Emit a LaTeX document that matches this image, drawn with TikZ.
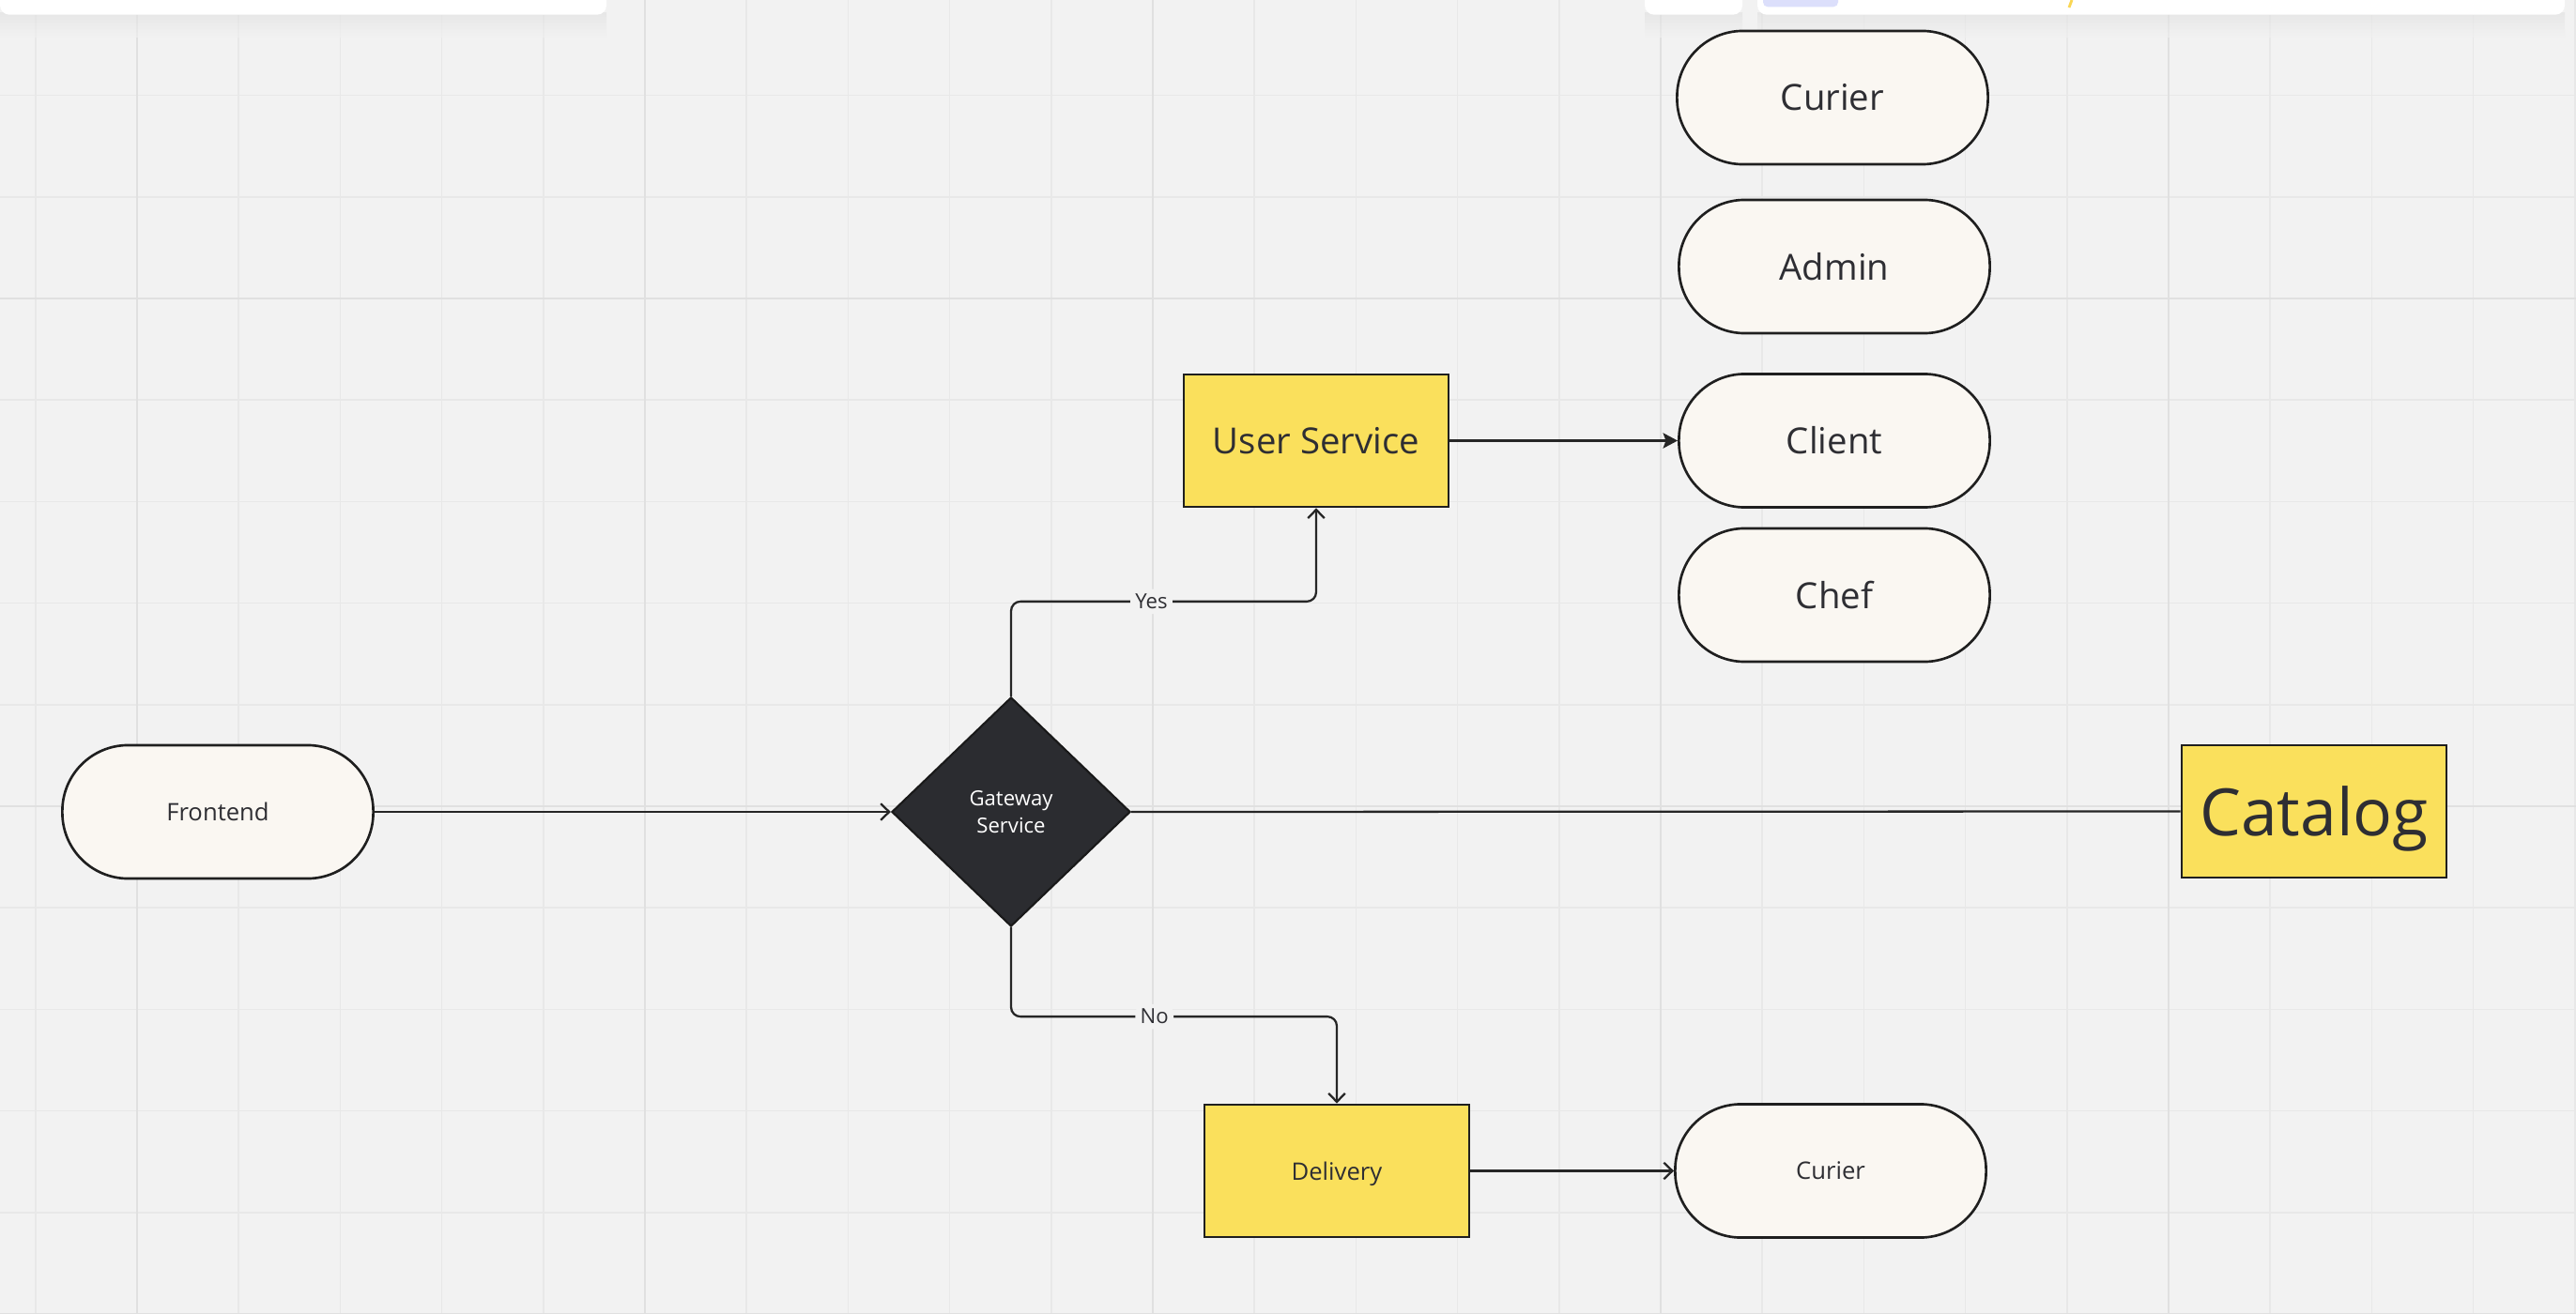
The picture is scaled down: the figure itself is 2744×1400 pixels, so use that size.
\documentclass[tikz,border=0pt]{standalone}
\usepackage{xcolor}
\usepackage{fontspec}
\setmainfont{Open Sans}
\usepackage{tikz}
\usetikzlibrary{shapes, positioning, calc, arrows.meta}

\definecolor{canvas}{HTML}{F2F2F2}
\definecolor{gridminor}{HTML}{E8E8E8}
\definecolor{gridmajor}{HTML}{E0E0E0}
\definecolor{cream}{HTML}{FAF7F2}
\definecolor{sticky}{HTML}{FAE05C}
\definecolor{slate}{HTML}{2B2C30}
\definecolor{ink}{HTML}{2E2E33}
\definecolor{lavender}{HTML}{DCDFFB}

\tikzset{
	pill/.style={draw=black!88, line width=0.75pt, fill=cream, rounded corners=0.7cm, minimum width=3.31cm, minimum height=1.42cm, inner sep=0pt, text=ink},
	service/.style={draw=black!88, line width=0.75pt, fill=sticky, minimum width=2.82cm, minimum height=1.41cm, inner sep=0pt, text=ink, text depth=0pt},
	gate/.style={diamond, draw=black!90, line width=0.6pt, fill=slate, minimum width=2.54cm, minimum height=2.44cm, inner sep=0pt, text=white, align=center, font=\fontsize{6.3}{8.2}\selectfont},
	link/.style={draw=black!85, line width=0.65pt, rounded corners=0.1cm},
	open tip/.style={-{Straight Barb[length=2.6pt,width=5pt]}},
	fill tip/.style={-{Stealth[length=4.4pt,width=4.6pt,inset=0.8pt]}},
	answer/.style={fill=canvas, inner sep=1.5pt, text=ink, font=\fontsize{6.3}{7.5}\selectfont},
	big/.style={font=\fontsize{10.9}{13}\selectfont},
	small/.style={font=\fontsize{7.3}{9}\selectfont}
}

\begin{document}
\begin{tikzpicture}[x=0.01cm, y=-0.01cm]
			
			\def\gstep{108.2}
			\def\gx{37.8}
			\def\gy{101.6}
			
			\useasboundingbox (0,0) rectangle (2744,1400);
			\fill[canvas] (0,0) rectangle (2744,1400);
			
			\foreach \k in {0,...,25}
			\draw[gridminor, line width=0.45pt] ({\gx+\k*\gstep},0) -- ++(0,1400);
			\foreach \k in {0,...,12}
			\draw[gridminor, line width=0.45pt] (0,{\gy+\k*\gstep}) -- ++(2744,0);
			\foreach \k in {1,6,11,16,21}
			\draw[gridmajor, line width=0.7pt] ({\gx+\k*\gstep},0) -- ++(0,1400);
			\foreach \k in {2,7,12}
			\draw[gridmajor, line width=0.7pt] (0,{\gy+\k*\gstep}) -- ++(2744,0);
			
			% panels at the top edge
			\foreach \a/\b in {0/646, 1752/1856, 1872/2732}
			\shade[top color=black!12, bottom color=canvas, opacity=0.6] (\a,14) rectangle (\b,40);
			\foreach \a/\b in {0/646, 1752/1856, 1872/2732}
			\fill[white, rounded corners=0.1cm] (\a,-30) rectangle (\b,15.7);
			\fill[lavender, rounded corners=0.05cm] (1878,-20) rectangle (1958,7.3);
			\draw[sticky!90!orange, line width=0.8pt] (2207,0) -- (2204,8);
			
			\node[pill, small] (front) at (232,865) {Frontend};
			\node[gate] (gate) at (1077,865) {Gateway\\Service};
			\node[service, big] (user) at (1402,469.5) {User Service};
			\node[service, small] (delivery) at (1424,1247.5) {Delivery};
			\node[service, font=\fontsize{19.8}{24}\selectfont] (catalog) at (2465,864.5) {Catalog};
			
			\node[pill, big] (curier) at (1952,104) {Curier};
			\node[pill, big] (admin) at (1954,284) {Admin};
			\node[pill, big] (client) at (1954,469.5) {Client};
			\node[pill, big] (chef) at (1954,634) {Chef};
			\node[pill, small] (curierb) at (1950,1247.5) {Curier};
			
			\draw[link, open tip] (front.east) -- (gate.west);
			\draw[link] (gate.east) -- (catalog.west);
			\draw[link, open tip] (gate.north) -- ++(0,-101) -| node[answer, pos=0.23] {Yes} (user.south);
			\draw[link, open tip] (gate.south) -- ++(0,95) -| node[answer, pos=0.22] {No} (delivery.north);
			\draw[link, fill tip] (user.east) -- (client.west);
			\draw[link, open tip] (delivery.east) -- (curierb.west);
			\end{tikzpicture}
\end{document}
